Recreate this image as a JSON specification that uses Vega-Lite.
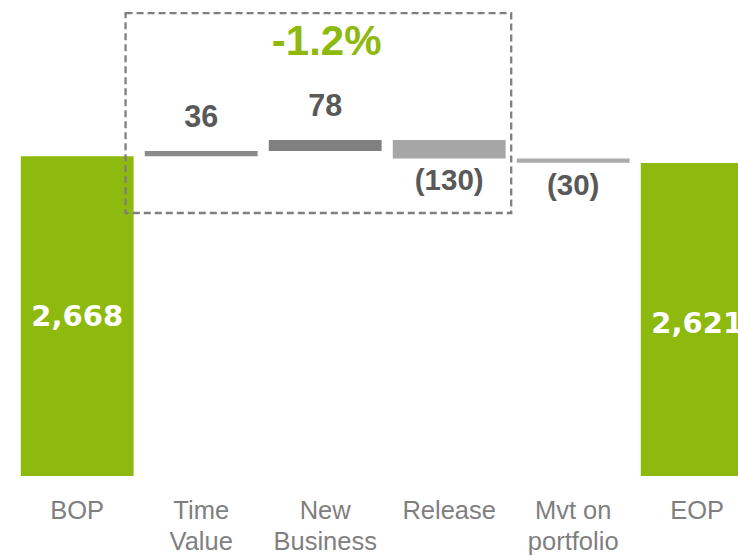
{
  "$schema": "https://vega.github.io/schema/vega-lite/v6.json",
  "width": 738,
  "height": 476,
  "autosize": {"type": "none"},
  "padding": {"left": 0, "top": 0, "right": 0, "bottom": 80},
  "background": "white",
  "config": {"view": {"stroke": null}},
  "datasets": {
    "steps": [
      {"cat": "BOP", "start": 0, "end": 2668, "kind": "total", "label": "2,668"},
      {"cat": "Time Value", "start": 2668, "end": 2704, "kind": "up", "label": "36"},
      {"cat": "New Business", "start": 2704, "end": 2782, "kind": "up", "label": "78"},
      {"cat": "Release", "start": 2782, "end": 2652, "kind": "down", "label": "(130)"},
      {"cat": "Mvt on portfolio", "start": 2652, "end": 2622, "kind": "down", "label": "(30)"},
      {"cat": "EOP", "start": 0, "end": 2621, "kind": "total", "label": "2,621"}
    ]
  },
  "layer": [
    {
      "encoding": {
        "x": {
          "field": "cat",
          "type": "nominal",
          "sort": null,
          "scale": {"range": [15.2, 759.2], "paddingInner": 0.09, "paddingOuter": 0.045},
          "axis": {
            "title": null,
            "domain": false,
            "ticks": false,
            "grid": false,
            "labelAngle": 0,
            "labelFont": "Liberation Sans",
            "labelFontSize": 25.5,
            "labelColor": "#7f7f7f",
            "labelPadding": 22,
            "labelLineHeight": 31,
            "labelBaseline": "top",
            "labelLimit": 400,
            "labelOverlap": false,
            "labelExpr": "datum.value == 'Mvt on portfolio' ? ['Mvt on', 'portfolio'] : split(datum.value, ' ')"
          }
        }
      },
      "layer": [
        {
          "data": {"name": "steps"},
          "mark": {"type": "bar", "clip": true},
          "encoding": {
            "y": {"field": "start", "type": "quantitative", "scale": {"domain": [416, 3768], "nice": false, "zero": false}, "axis": null},
            "y2": {"field": "end"},
            "color": {
              "field": "cat",
              "type": "nominal",
              "scale": {
                "domain": ["BOP", "Time Value", "New Business", "Release", "Mvt on portfolio", "EOP"],
                "range": ["#8EB90E", "#8a8a8a", "#808080", "#a6a6a6", "#ababab", "#8EB90E"]
              },
              "legend": null
            }
          }
        },
        {
          "data": {"name": "steps"},
          "transform": [{"filter": "datum.kind == 'up'"}],
          "mark": {"type": "text", "font": "Liberation Sans", "fontWeight": "bold", "fontSize": 30.5, "color": "#595959", "baseline": "alphabetic", "align": "center", "dy": -24},
          "encoding": {
            "y": {"field": "end", "type": "quantitative", "axis": null},
            "text": {"field": "label"}
          }
        },
        {
          "data": {"name": "steps"},
          "transform": [{"filter": "datum.kind == 'down'"}],
          "mark": {"type": "text", "font": "Liberation Sans", "fontWeight": "bold", "fontSize": 29.5, "color": "#595959", "baseline": "alphabetic", "align": "center", "dy": 32},
          "encoding": {
            "y": {"field": "end", "type": "quantitative", "axis": null},
            "text": {"field": "label"}
          }
        },
        {
          "data": {"name": "steps"},
          "transform": [{"filter": "datum.kind == 'total'"}],
          "mark": {"type": "text", "font": "DejaVu Sans", "fontWeight": "bold", "fontSize": 29, "color": "white", "baseline": "middle", "align": "center", "dy": 161},
          "encoding": {
            "y": {"field": "end", "type": "quantitative", "axis": null},
            "text": {"field": "label"}
          }
        },
        {
          "data": {"values": [{"cat": "New Business", "t": "-1.2%"}]},
          "mark": {"type": "text", "font": "Liberation Sans", "fontWeight": "bold", "fontSize": 42, "color": "#8EB90E", "baseline": "alphabetic", "align": "center", "dx": 1.5},
          "encoding": {
            "y": {"datum": 3381, "type": "quantitative", "axis": null},
            "text": {"field": "t"}
          }
        }
      ]
    },
    {
      "data": {"values": [{}]},
      "mark": {"type": "rect", "fill": "transparent", "stroke": "#7f7f7f", "strokeWidth": 2.3, "strokeDash": [7, 4]},
      "encoding": {
        "x": {"datum": 0.39, "type": "quantitative", "scale": {"domain": [-0.5, 5.5], "range": [15.2, 759.2], "nice": false, "zero": false}, "axis": null},
        "x2": {"datum": 3.5},
        "y": {"datum": 2268, "type": "quantitative", "axis": null},
        "y2": {"datum": 3676}
      }
    }
  ],
  "resolve": {"scale": {"x": "independent"}}
}
